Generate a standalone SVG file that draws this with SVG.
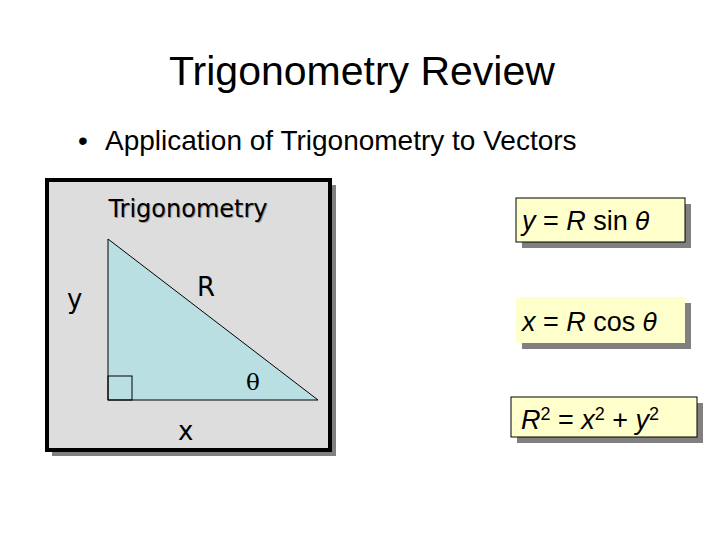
<svg xmlns="http://www.w3.org/2000/svg" width="720" height="540" viewBox="0 0 720 540">
<style>
text{font-family:"Liberation Sans",Arial,sans-serif;fill:#000}
.eq{font-size:27px}
.sh{fill:#808080}
.yb{fill:#ffffcc}
.dv{font-family:"DejaVu Sans",sans-serif}
</style>
<rect width="720" height="540" fill="#fff"/>
<text x="362" y="85" font-size="41" text-anchor="middle">Trigonometry Review</text>
<text x="78" y="150" font-size="28">•</text>
<text x="105" y="150" font-size="28">Application of Trigonometry to Vectors</text>
<g id="panel">
<rect x="52" y="185" width="284" height="271" class="sh"/>
<rect x="47" y="180" width="283" height="270" fill="#dddddd" stroke="#000" stroke-width="4"/>
<text x="189" y="218" font-size="24" text-anchor="middle" class="dv" style="fill:#999">Trigonometry</text>
<text x="188" y="217" font-size="24" text-anchor="middle" class="dv">Trigonometry</text>
<polygon points="108,239 108,400 318,400" fill="#b9dfe3" stroke="#000" stroke-width="1"/>
<rect x="108" y="376" width="24" height="24" fill="none" stroke="#000"/>
<text x="67" y="308" font-size="26" class="dv">y</text>
<text x="197" y="296" font-size="26" class="dv">R</text>
<text x="246" y="390" font-size="23" style="font-family:'DejaVu Serif',serif">θ</text>
<text x="178" y="440" font-size="26" class="dv">x</text>
</g>
<g id="eq1">
<rect x="522" y="204" width="169" height="44" class="sh"/>
<rect x="516" y="198" width="169" height="44" class="yb" stroke="#000"/>
<text x="522" y="230" class="eq"><tspan font-style="italic">y</tspan> = <tspan font-style="italic">R</tspan> sin <tspan font-style="italic" style="font-family:'DejaVu Sans',sans-serif" font-size="24">θ</tspan></text>
</g>
<g id="eq2">
<rect x="522" y="303" width="169" height="46" class="sh"/>
<rect x="516" y="297" width="169" height="46" class="yb"/>
<text x="522" y="331" class="eq"><tspan font-style="italic">x</tspan> = <tspan font-style="italic">R</tspan> cos <tspan font-style="italic" style="font-family:'DejaVu Sans',sans-serif" font-size="24">θ</tspan></text>
</g>
<g id="eq3">
<rect x="517" y="403" width="186" height="40" class="sh"/>
<rect x="511" y="397" width="186" height="40" class="yb" stroke="#000"/>
<text x="521" y="429" class="eq"><tspan font-style="italic">R</tspan><tspan font-size="18" dy="-9">2</tspan><tspan dy="9"> = </tspan><tspan font-style="italic">x</tspan><tspan font-size="18" dy="-9">2</tspan><tspan dy="9"> + </tspan><tspan font-style="italic">y</tspan><tspan font-size="18" dy="-9">2</tspan></text>
</g>
</svg>
